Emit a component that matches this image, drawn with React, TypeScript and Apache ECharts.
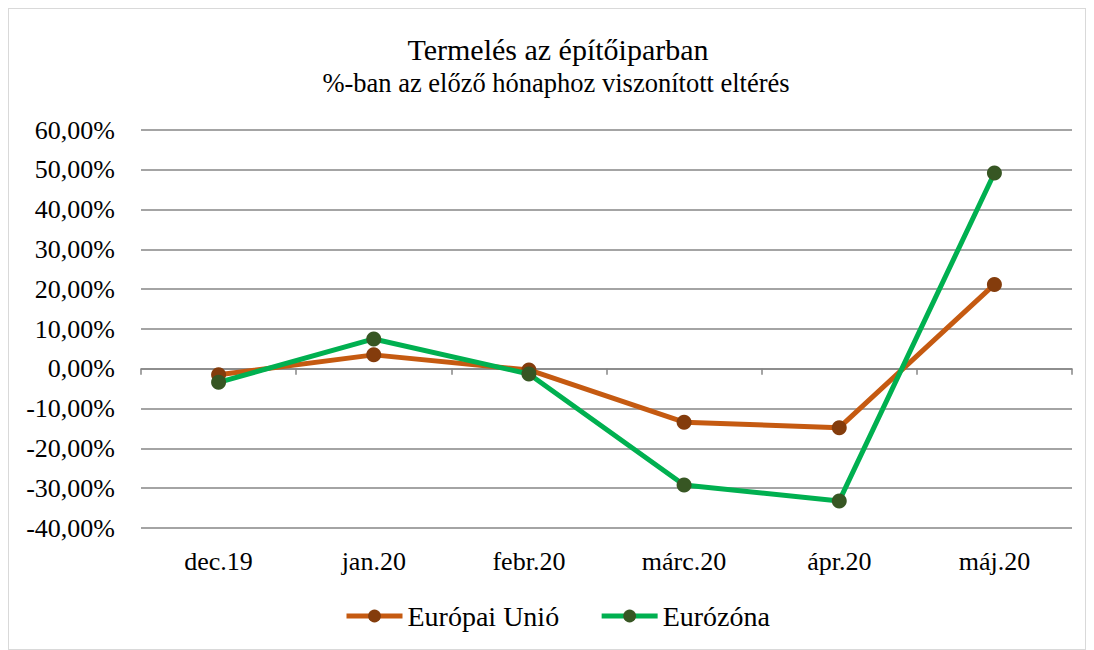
import React, { useEffect, useRef } from "react";
import * as echarts from "echarts";

const categories = ["dec.19", "jan.20", "febr.20", "márc.20", "ápr.20", "máj.20"];
const euValues = [-1.5, 3.5, -0.3, -13.4, -14.8, 21.2];
const ezValues = [-3.4, 7.5, -1.3, -29.2, -33.2, 49.2];
const seriesNames = ["Európai Unió", "Eurózóna"];
const titleText = "Termelés az építőiparban";
const subtitleText = "%-ban az előző hónaphoz viszonított eltérés";

const FONT = "Liberation Serif";

export default function App() {
  const ref = useRef<HTMLDivElement>(null);
  useEffect(() => {
    if (!ref.current) return;
    const chart = echarts.init(ref.current, null, { renderer: "svg" });
    chart.setOption({
      animation: false,
      backgroundColor: "#ffffff",
      graphic: [
        {
          type: "text",
          x: 549,
          y: 40,
          style: {
            text: titleText,
            fontFamily: FONT,
            fontSize: 30,
            fill: "#000",
            align: "center",
            verticalAlign: "middle",
          },
        },
        {
          type: "text",
          x: 547,
          y: 74,
          style: {
            text: subtitleText,
            fontFamily: FONT,
            fontSize: 26.5,
            fill: "#000",
            align: "center",
            verticalAlign: "middle",
          },
        },
      ],
      legend: {
        top: 593,
        left: 335,
        padding: 0,
        itemWidth: 56,
        itemHeight: 16,
        itemGap: 40,
        textStyle: { fontFamily: FONT, fontSize: 28, color: "#000" },
        lineStyle: { width: 5 },
        data: seriesNames,
      },
      grid: { left: 132, right: 13, top: 121, bottom: 121, containLabel: false },
      xAxis: [
        {
          type: "category",
          data: categories,
          position: "bottom",
          axisLine: { show: false, onZero: false },
          axisTick: { show: false },
          axisLabel: { fontFamily: FONT, fontSize: 26, color: "#000", margin: 20 },
        },
        {
          type: "category",
          data: categories,
          position: "bottom",
          axisLine: { show: true, onZero: true, lineStyle: { color: "#868686", width: 1.5 } },
          axisTick: { show: true, alignWithLabel: false, length: 6, lineStyle: { color: "#868686", width: 1.5 } },
          axisLabel: { show: false },
        },
      ],
      yAxis: {
        type: "value",
        min: -40,
        max: 60,
        interval: 10,
        axisLine: { show: false },
        axisTick: { show: false },
        splitLine: { show: true, lineStyle: { color: "#868686", width: 1.5 } },
        axisLabel: {
          fontFamily: FONT,
          fontSize: 26,
          color: "#000",
          margin: 26,
          formatter: (v: number) => v.toFixed(2).replace(".", ",") + "%",
        },
      },
      series: [
        {
          name: seriesNames[0],
          type: "line",
          data: euValues,
          symbol: "circle",
          symbolSize: 15,
          lineStyle: { color: "#C55A11", width: 5 },
          itemStyle: { color: "#843C0C" },
          z: 2,
        },
        {
          name: seriesNames[1],
          type: "line",
          data: ezValues,
          symbol: "circle",
          symbolSize: 15,
          lineStyle: { color: "#00B050", width: 5 },
          itemStyle: { color: "#375623" },
          z: 3,
        },
      ],
    });
    return () => chart.dispose();
  }, []);
  return (
    <div
      ref={ref}
      style={{ width: 1076, height: 640, border: "1px solid #d9d9d9" }}
    />
  );
}
